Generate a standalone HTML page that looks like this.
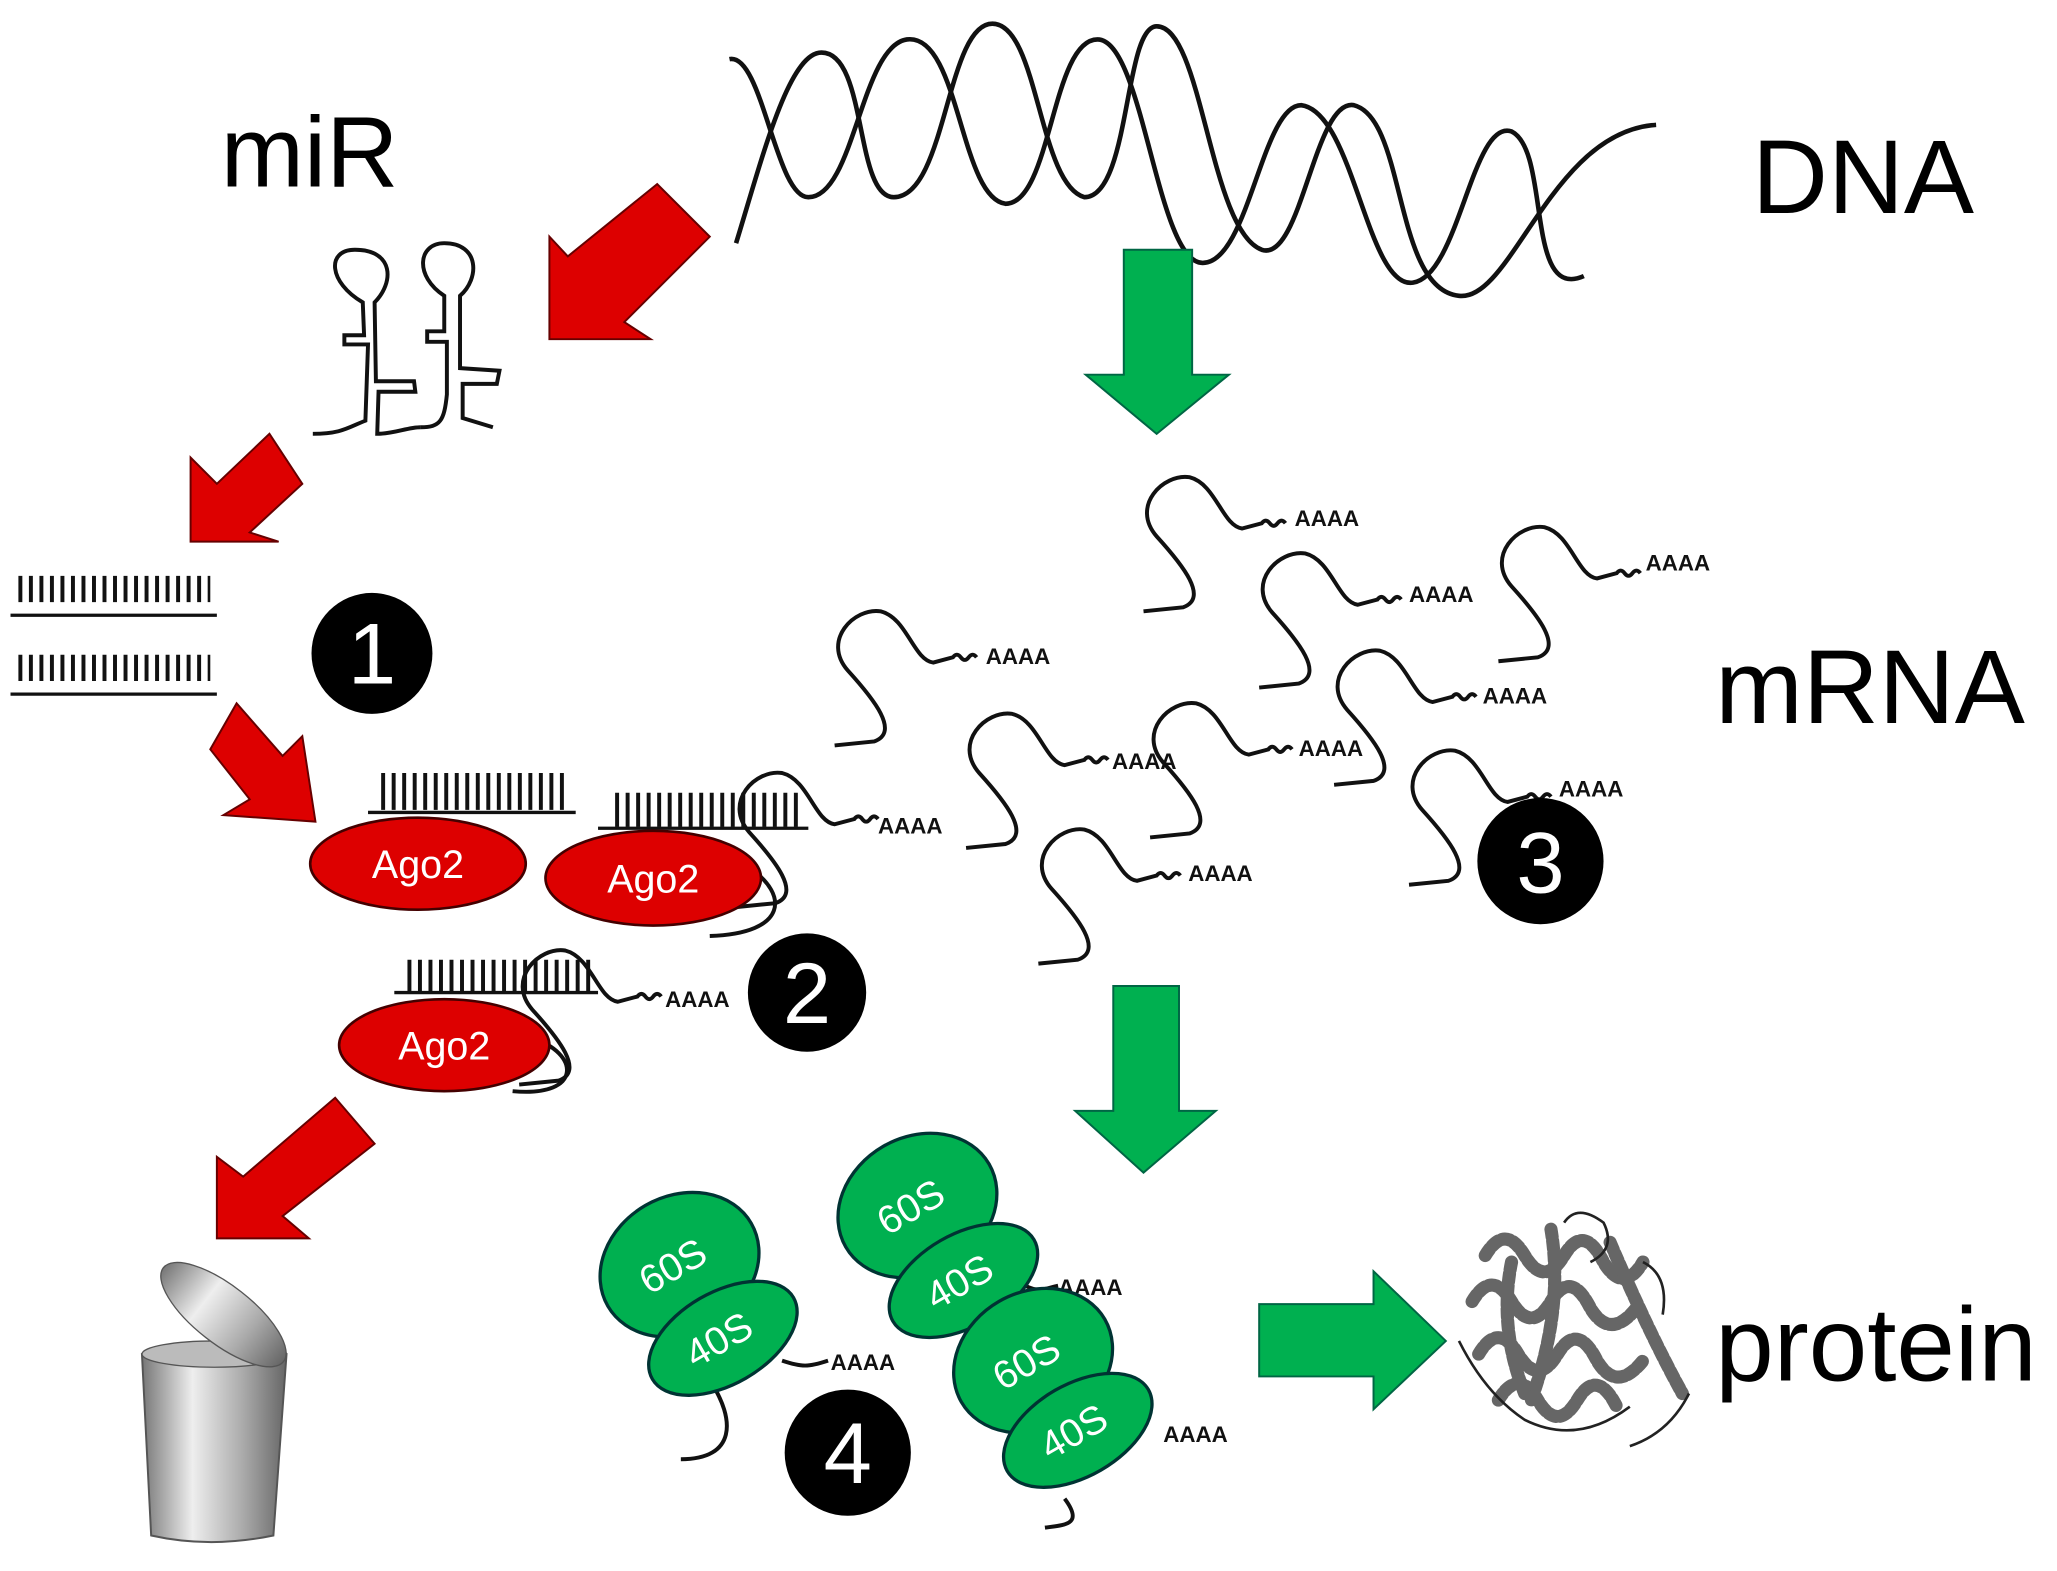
<!DOCTYPE html>
<html><head><meta charset="utf-8"><style>
html,body{margin:0;padding:0;background:#fff;}
svg{display:block;}
text{font-family:"Liberation Sans",sans-serif;}
</style></head><body>
<svg width="2057" height="1571" viewBox="0 0 1565 1195" preserveAspectRatio="none" xmlns="http://www.w3.org/2000/svg">
<defs>
<linearGradient id="can" x1="0" x2="1">
<stop offset="0" stop-color="#777"/><stop offset="0.35" stop-color="#eee"/><stop offset="0.7" stop-color="#aaa"/><stop offset="1" stop-color="#666"/>
</linearGradient>
<g id="m" fill="none" stroke="#111" stroke-width="3">
<path d="M0,105 L30,102 C50,95 30,70 10,48 C-10,25 15,0 35,3 C55,8 60,40 75,42 L90,38 q3,-4 6,0 q3,4 6,0 q3,-4 6,0"/>
</g>
</defs>
<rect width="1565" height="1195" fill="#fff"/>
<text x="168" y="142" font-size="76">miR</text>
<text x="1333" y="162" font-size="80">DNA</text>
<text x="1305" y="550" font-size="80">mRNA</text>
<text x="1305" y="1050" font-size="80">protein</text>
<g fill="none" stroke="#111" stroke-width="3.5">
<path d="M560,185 C580,120 600,40 625,40 C660,40 650,150 680,150 C720,150 720,18 755,18 C790,18 790,140 825,150 C860,150 855,20 880,20 C915,20 920,175 960,190 C990,200 1000,75 1030,80 C1070,90 1060,220 1110,225 C1150,230 1180,100 1260,95"/>
<path d="M555,45 C580,40 590,150 615,150 C650,150 655,35 690,30 C730,25 730,150 765,155 C800,155 800,30 835,30 C870,30 880,200 915,200 C950,200 960,80 990,80 C1030,85 1040,220 1075,215 C1110,210 1120,90 1150,100 C1180,115 1160,230 1205,210"/>
</g>
<g fill="#dd0000" stroke="#600" stroke-width="1.5">
<polygon points="500,140 540,180 475,245 495,258 418,258 418,180 432,195"/>
<polygon points="205,330 230,368 190,405 212,412 145,412 145,348 165,368"/>
<polygon points="180,535 215,575 230,560 240,625 170,620 190,608 160,570"/>
<polygon points="255,835 285,870 215,925 235,942 165,942 165,880 185,895"/>
</g>
<g fill="#00b050" stroke="#064" stroke-width="1.5">
<polygon points="855,190 907,190 907,285 935,285 880,330 826,285 855,285"/>
<polygon points="847,750 897,750 897,845 925,845 870,892 818,845 847,845"/>
<polygon points="958,992 1045,992 1045,967 1100,1020 1045,1072 1045,1047 958,1047"/>
</g>
<g fill="none" stroke="#111" stroke-width="3">
<path d="M238,330 C260,330 265,325 278,320 L280,262 L262,262 L262,255 L277,255 L276,230 C250,215 248,190 270,190 C300,190 300,215 285,230 L286,290 L315,290 L316,298 L288,298 L287,330 C300,330 310,325 320,325"/>
<path d="M320,325 C335,325 338,320 340,300 L340,260 L325,260 L325,252 L338,252 L338,225 C315,210 318,185 338,185 C365,185 365,212 350,225 L350,280 L380,282 L378,292 L352,292 L352,318 L375,325"/>
</g>
<g stroke="#111" stroke-width="2.5">
<line x1="8" y1="468" x2="165" y2="468"/><line x1="8" y1="528" x2="165" y2="528"/>
<line x1="280" y1="618" x2="438" y2="618"/><line x1="455" y1="630" x2="615" y2="630"/>
<line x1="300" y1="755" x2="455" y2="755"/>
</g>
<g stroke="#111" stroke-width="3" stroke-dasharray="3,5">
<line x1="14" y1="448" x2="160" y2="448" stroke-width="20"/>
<line x1="14" y1="508" x2="160" y2="508" stroke-width="20"/>
<line x1="290" y1="602" x2="432" y2="602" stroke-width="28"/>
<line x1="468" y1="616" x2="610" y2="616" stroke-width="26"/>
<line x1="310" y1="742" x2="452" y2="742" stroke-width="24"/>
</g>
<use href="#m" x="870" y="360"/>
<use href="#m" x="958" y="418"/>
<use href="#m" x="1140" y="398"/>
<use href="#m" x="635" y="462"/>
<use href="#m" x="1015" y="492"/>
<use href="#m" x="735" y="540"/>
<use href="#m" x="875" y="532"/>
<use href="#m" x="1072" y="568"/>
<use href="#m" x="790" y="628"/>
<use href="#m" x="560" y="585"/>
<use href="#m" x="395" y="720"/>
<g font-size="17" font-weight="bold" fill="#111">
<text x="985" y="400">AAAA</text><text x="1072" y="458">AAAA</text><text x="1252" y="434">AAAA</text>
<text x="750" y="505">AAAA</text><text x="1128" y="535">AAAA</text><text x="846" y="585">AAAA</text>
<text x="988" y="575">AAAA</text><text x="1186" y="606">AAAA</text><text x="904" y="670">AAAA</text>
<text x="668" y="634">AAAA</text><text x="506" y="766">AAAA</text>
<text x="805" y="985">AAAA</text><text x="632" y="1042">AAAA</text><text x="885" y="1097">AAAA</text>
</g>
<g fill="none" stroke="#111" stroke-width="3">
<path d="M570,660 C600,680 600,710 540,712"/>
<path d="M405,790 C440,800 445,835 390,830"/>
</g>
<g fill="#dd0000" stroke="#400" stroke-width="2">
<ellipse cx="318" cy="657" rx="82" ry="35"/>
<ellipse cx="497" cy="668" rx="82" ry="36"/>
<ellipse cx="338" cy="795" rx="80" ry="35"/>
</g>
<g fill="#fff" font-size="30" text-anchor="middle">
<text x="318" y="668">Ago2</text><text x="497" y="679">Ago2</text><text x="338" y="806">Ago2</text>
</g>
<g fill="none" stroke="#111" stroke-width="3">
<path d="M540,1050 C560,1080 560,1110 518,1110"/>
<path d="M595,1035 C610,1040 615,1040 630,1035"/>
<path d="M775,975 C790,985 795,980 805,978"/>
<path d="M810,1140 C825,1160 810,1160 795,1162"/>
</g>
<g fill="#00b050" stroke="#033" stroke-width="2.5">
<ellipse cx="517" cy="962" rx="63" ry="52" transform="rotate(-30 517 962)"/>
<ellipse cx="550" cy="1018" rx="62" ry="35" transform="rotate(-30 550 1018)"/>
<ellipse cx="698" cy="917" rx="63" ry="52" transform="rotate(-30 698 917)"/>
<ellipse cx="733" cy="974" rx="62" ry="35" transform="rotate(-30 733 974)"/>
<ellipse cx="786" cy="1035" rx="63" ry="52" transform="rotate(-30 786 1035)"/>
<ellipse cx="820" cy="1088" rx="62" ry="35" transform="rotate(-30 820 1088)"/>
</g>
<g fill="#fff" font-size="30" text-anchor="middle">
<text transform="translate(517,972) rotate(-30)">60S</text>
<text transform="translate(552,1028) rotate(-30)">40S</text>
<text transform="translate(698,927) rotate(-30)">60S</text>
<text transform="translate(735,984) rotate(-30)">40S</text>
<text transform="translate(786,1045) rotate(-30)">60S</text>
<text transform="translate(822,1098) rotate(-30)">40S</text>
</g>
<g fill="#000">
<circle cx="283" cy="497" r="46"/><circle cx="614" cy="755" r="45"/>
<circle cx="1172" cy="655" r="48"/><circle cx="645" cy="1105" r="48"/>
</g>
<g fill="#fff" font-size="66" text-anchor="middle">
<text x="283" y="520">1</text><text x="614" y="778">2</text>
<text x="1172" y="679">3</text><text x="645" y="1128">4</text>
</g>
<path d="M108,1030 L218,1030 L208,1168 Q160,1178 115,1168 Z" fill="url(#can)" stroke="#555" stroke-width="1.5"/>
<ellipse cx="163" cy="1030" rx="55" ry="10" fill="#bbb" stroke="#555"/>
<ellipse cx="170" cy="1000" rx="58" ry="22" transform="rotate(38 170 1000)" fill="url(#can)" stroke="#555"/>
<g fill="none" stroke="#666" stroke-width="10" stroke-linecap="round" stroke-dasharray="6,3">
<path d="M1130,955 q15,-25 30,0 q15,25 30,0 q15,-25 30,5 q15,25 30,0"/>
<path d="M1120,990 q15,-25 30,0 q15,25 30,0 q15,-25 30,5 q15,25 35,0"/>
<path d="M1125,1030 q15,-25 30,0 q15,25 30,0 q15,-25 30,5 q15,25 35,0"/>
<path d="M1140,1065 q15,-25 30,0 q15,25 30,0 q15,-25 30,5"/>
<path d="M1180,935 q10,60 -15,130"/>
<path d="M1225,945 q30,70 55,115"/>
<path d="M1150,960 q-10,50 10,100"/>
</g>
<g fill="none" stroke="#222" stroke-width="2">
<path d="M1190,930 q10,-15 30,0 q10,20 -10,30"/>
<path d="M1110,1020 q20,40 50,60 q40,20 80,-10"/>
<path d="M1240,1100 q30,-10 45,-40"/>
<path d="M1250,960 q20,10 15,40"/>
</g>
</svg>
</body></html>
